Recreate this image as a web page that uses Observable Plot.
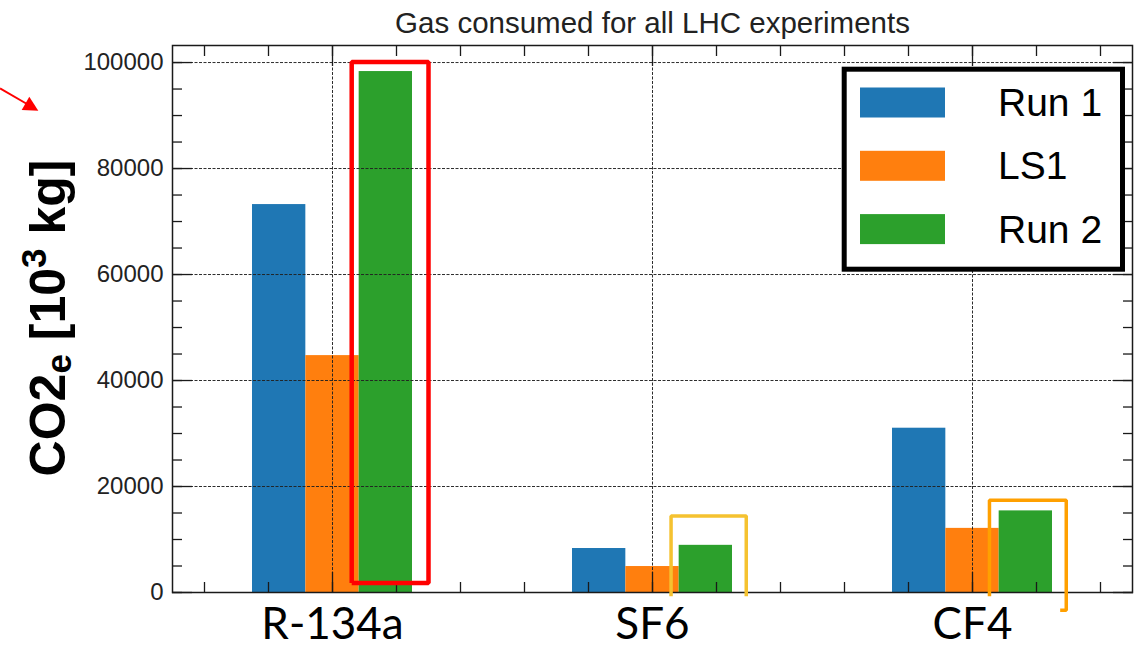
<!DOCTYPE html>
<html><head><meta charset="utf-8">
<script src="https://cdn.jsdelivr.net/npm/d3@7"></script>
<script src="https://cdn.jsdelivr.net/npm/@observablehq/plot@0.6"></script>
<style>
html,body{margin:0;padding:0;background:#fff;}
#chart{position:relative;width:1140px;height:650px;}
</style></head><body><div id="chart"></div>
<script>
// ---- data ----
const categories = ["R-134a", "SF6", "CF4"];
const series = ["Run 1", "LS1", "Run 2"];
const run1 = [73200, 8300, 31000];
const ls1 = [44700, 4900, 12100];
const run2 = [98300, 8900, 15400];
const seriesColors = ["#1f77b4", "#ff7f0e", "#2ca02c"];
const yTicks = [0, 20000, 40000, 60000, 80000, 100000];
const yTickLabels = ["0", "20000", "40000", "60000", "80000", "100000"];
const title = "Gas consumed for all LHC experiments";

// highlight annotations: [offset from category centre, value]
const highlightR134a = [[0.06, 1800], [0.06, 100100], [0.30, 100100], [0.30, 1800], [0.06, 1800]];
const highlightSF6 = [[0.058, -700], [0.058, 14450], [0.293, 14450], [0.293, -700]];
const highlightCF4 = [[0.053, -700], [0.053, 17430], [0.293, 17430], [0.293, -3350], [0.274, -3350]];

// ---- build table ----
const valuesBySeries = [run1, ls1, run2];
const barWidth = 1 / 6;
const data = categories.flatMap((c, i) => valuesBySeries.map((vals, j) => ({
  category: c, series: series[j], value: vals[i],
  x1: i + (j - 1.5) * barWidth, x2: i + (j - 0.5) * barWidth
})));
const annotations = [
  {cat: "R-134a", pts: highlightR134a, color: "#ff0000", w: 4.5},
  {cat: "SF6", pts: highlightSF6, color: "#f5c230", w: 3.5},
  {cat: "CF4", pts: highlightCF4, color: "#ffa000", w: 3.5}
].flatMap((a, k) => a.pts.map(([dx, y]) => ({k, x: categories.indexOf(a.cat) + dx, y, color: a.color, w: a.w})));

const yMax = d3.max(valuesBySeries.flat()) * 1.05;
const catIdx = categories.map((c, i) => i);
const minorX = d3.range(-2, 13).map(k => k * 0.2);
const minorY = d3.range(0, yMax, 5000);

const ink = "#1a1a1a";
const gridStyle = {stroke: "#222", strokeOpacity: 0.95, strokeWidth: 1, strokeDasharray: "3,1.5"};
const tk = {stroke: ink, strokeWidth: 1.3, fill: "none", label: null};
const font = "'Liberation Sans', Arial, Helvetica, sans-serif";

const plot = Plot.plot({
  width: 1140, height: 650,
  marginLeft: 172, marginRight: 8, marginTop: 45, marginBottom: 58,
  x: {type: "linear", domain: [-0.5, 2.5], axis: null},
  y: {domain: [0, yMax], axis: null},
  color: {domain: series, range: seriesColors},
  style: {fontFamily: font, background: "white", overflow: "visible"},
  marks: [
    Plot.rect(data, {x1: "x1", x2: "x2", y1: 0, y2: "value", fill: "series"}),
    Plot.gridY(yTicks, gridStyle),
    Plot.gridX(catIdx, gridStyle),
    Plot.frame({stroke: ink, strokeWidth: 1.5}),
    // inward ticks
    Plot.axisY(yTicks, {...tk, anchor: "left", tickSize: -20}),
    Plot.axisY(yTicks, {...tk, anchor: "right", tickSize: -20}),
    Plot.axisY(minorY, {...tk, anchor: "left", tickSize: -10}),
    Plot.axisY(minorY, {...tk, anchor: "right", tickSize: -10}),
    Plot.axisX(catIdx, {...tk, anchor: "bottom", tickSize: -20}),
    Plot.axisX(catIdx, {...tk, anchor: "top", tickSize: -20}),
    Plot.axisX(minorX, {...tk, anchor: "bottom", tickSize: -10}),
    Plot.axisX(minorX, {...tk, anchor: "top", tickSize: -10}),
    // tick labels
    Plot.axisY(yTicks, {anchor: "left", tickSize: 0, tickPadding: 9, label: null,
      tickFormat: d => yTickLabels[yTicks.indexOf(d)], fontSize: 24, fill: "#222"}),
    Plot.axisX(catIdx, {anchor: "bottom", tickSize: 0, tickPadding: 15, label: null,
      tickFormat: d => categories[d], fontSize: 44, fontFamily: "Lato, 'Open Sans', sans-serif", fill: "#000"}),
    // title
    Plot.text([title], {frameAnchor: "top", lineAnchor: "bottom", dy: -13, fontSize: 29.5, fill: "#222"}),
    // highlight boxes
    Plot.line(annotations, {x: "x", y: "y", z: "k", stroke: "color", strokeWidth: "w", strokeLinejoin: "miter", strokeLinecap: "butt"})
  ]
});

const svg = d3.select(plot);

// y-axis label
const yl = svg.append("text")
  .attr("transform", "translate(65,318) rotate(-90)")
  .attr("text-anchor", "middle")
  .attr("font-family", font).attr("font-weight", "bold").attr("font-size", 50).attr("fill", "#000");
yl.append("tspan").text("CO2");
yl.append("tspan").attr("font-size", 35).attr("dy", 6).text("e");
yl.append("tspan").attr("dy", -6).text(" [10");
yl.append("tspan").attr("font-size", 35).attr("dy", -19).text("3");
yl.append("tspan").attr("dy", 19).text(" kg]");

// legend
const lg = svg.append("g").attr("font-family", font).attr("text-anchor", "start");
lg.append("rect").attr("x", 844.2).attr("y", 69.2).attr("width", 278.3).attr("height", 200)
  .attr("fill", "white").attr("stroke", "#000").attr("stroke-width", 5);
series.forEach((s, i) => {
  const cy = 102.5 + i * 63.3;
  lg.append("rect").attr("x", 860).attr("y", cy - 15).attr("width", 85).attr("height", 30).attr("fill", seriesColors[i]);
  lg.append("text").attr("x", 998).attr("y", cy).attr("dy", "0.35em").attr("text-anchor", "start")
    .attr("font-size", 39).attr("fill", "#000").text(s);
});

// red arrow (annotation in the left margin)
const ar = svg.append("g");
ar.append("line").attr("x1", 0).attr("y1", 88.3).attr("x2", 27).attr("y2", 104).attr("stroke", "#ff0000").attr("stroke-width", 2);
ar.append("polygon").attr("points", "38.3,110.7 29.3,96.7 21.7,110").attr("fill", "#ff0000");

document.getElementById("chart").appendChild(plot);
</script></body></html>
